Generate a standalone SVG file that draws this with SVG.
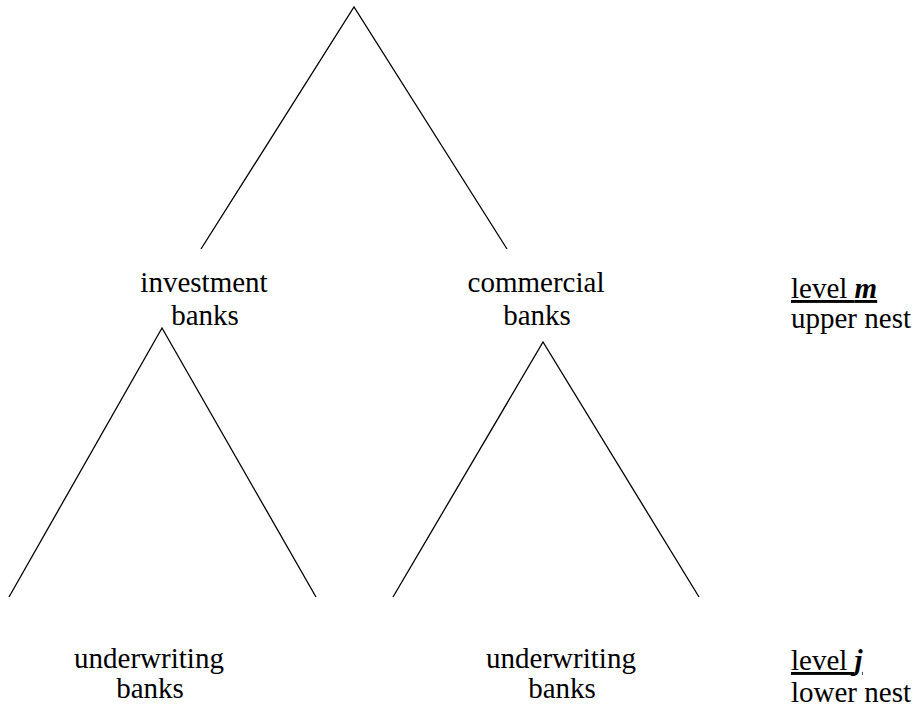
<svg xmlns="http://www.w3.org/2000/svg" width="919" height="710" viewBox="0 0 919 710">
<style>
text{font-family:'Liberation Serif','Times New Roman',Times,serif;font-size:29px;fill:#000}
.c{text-anchor:middle}
.l{stroke:#000;stroke-width:1.3;fill:none}
.u{text-decoration:underline}
.bi{font-weight:bold;font-style:italic}
</style>
<rect width="919" height="710" fill="#fff"/>
<g id="connectors">
<polyline class="l" points="201,249 354,7 507,249"/>
<polyline class="l" points="9,597 162,328 316,597"/>
<polyline class="l" points="393,597 543,342 699,597"/>
</g>
<g id="investment-banks">
<text class="c" x="204" y="292">investment</text>
<text class="c" x="205" y="325">banks</text>
</g>
<g id="commercial-banks">
<text class="c" x="536" y="292">commercial</text>
<text class="c" x="537" y="325">banks</text>
</g>
<g id="underwriting-banks-1">
<text class="c" x="149" y="668">underwriting</text>
<text class="c" x="150" y="698">banks</text>
</g>
<g id="underwriting-banks-2">
<text class="c" x="561" y="668">underwriting</text>
<text class="c" x="562" y="698">banks</text>
</g>
<g id="level-m">
<text class="u" x="791" y="298">level <tspan class="bi">m</tspan></text>
<text x="791" y="328">upper nest</text>
</g>
<g id="level-j">
<text class="u" x="791" y="670">level <tspan class="bi">j</tspan></text>
<text x="791" y="702">lower nest</text>
</g>
</svg>
